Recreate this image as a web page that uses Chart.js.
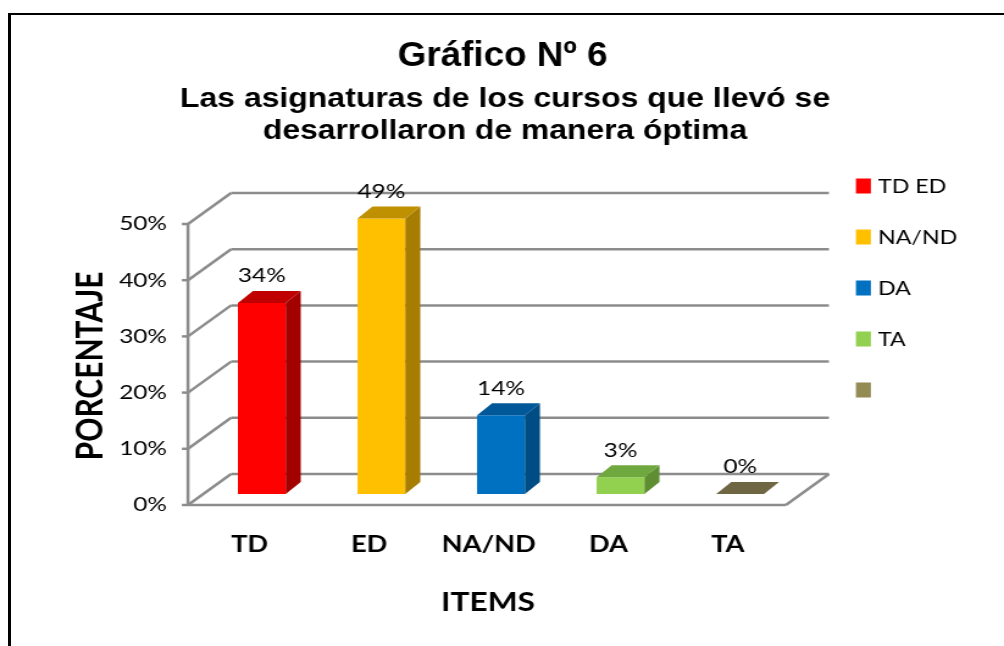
<!DOCTYPE html>
<html lang="es">
<head>
<meta charset="UTF-8">
<title>Gráfico Nº 6</title>
<script src="https://cdn.jsdelivr.net/npm/chart.js"></script>
<style>
  html, body { margin: 0; padding: 0; background: #fff; overflow: hidden; }
  #frame { position: absolute; left: 8px; top: 13px; width: 1100px; height: 800px;
           border-left: 3px solid #000; border-top: 2px solid #000; }
  /* the source picture is stretched ~1.22x horizontally, so the canvas is too */
  #chart { position: absolute; left: 0; top: 0; width: 1004px !important; height: 646px !important; }
</style>
</head>
<body>
<div id="frame"></div>
<canvas id="chart" width="823" height="646" style="width:1004px;height:646px"></canvas>
<script>
const categories = ['TD', 'ED', 'NA/ND', 'DA', 'TA'];
const percentages = [34, 49, 14, 3, 0];
const yTicks = [0, 10, 20, 30, 40, 50];
const legendLabels = ['TD ED', 'NA/ND', 'DA', 'TA', ''];
const titleLines = ['Gráfico Nº 6', 'Las asignaturas de los cursos que llevó se', 'desarrollaron de manera óptima'];
const yTitle = 'PORCENTAJE';
const xTitle = 'ITEMS';

const frontColors = ['#FF0000', '#FFC000', '#0070C0', '#92D050', '#948A54'];
const sideColors = ['#A30000', '#A67D00', '#004C85', '#5F8E32', '#60593A'];
const topColors = ['#C00000', '#BF9000', '#005898', '#70A840', '#6F6643'];

// offsets of the 3d planes, relative to the plane the bars stand in
const FRONT = { dx: -11.5, dy: 11 };
const BACK = { dx: 23.8, dy: -20 };
const DEPTH = { dx: 12.3, dy: -12 };
const GRID = '#8c8c8c';

function line(ctx, x1, y1, x2, y2) {
    ctx.beginPath();
    ctx.moveTo(x1, y1);
    ctx.lineTo(x2, y2);
    ctx.stroke();
}

function poly(ctx, pts) {
    ctx.beginPath();
    ctx.moveTo(pts[0][0], pts[0][1]);
    for (let i = 1; i < pts.length; i++) ctx.lineTo(pts[i][0], pts[i][1]);
    ctx.closePath();
    ctx.fill();
}

const box3d = {
    id: 'box3d',
    beforeDatasetsDraw(chart) {
        const { ctx, chartArea: a, scales: { y } } = chart;
        const fl = a.left + FRONT.dx, fr = a.right + FRONT.dx;
        const bl = a.left + BACK.dx, br = a.right + BACK.dx;
        const y0 = y.getPixelForValue(0);
        const yTop = y.getPixelForValue(yTicks[yTicks.length - 1]);
        ctx.save();
        ctx.strokeStyle = GRID;
        ctx.lineWidth = 2.5;
        yTicks.forEach(v => {
            const py = y.getPixelForValue(v);
            line(ctx, bl, py + BACK.dy, br, py + BACK.dy);
            line(ctx, fl, py + FRONT.dy, bl, py + BACK.dy);
            line(ctx, fl - 5, py + FRONT.dy, fl, py + FRONT.dy);
        });
        line(ctx, fl, yTop + FRONT.dy, fl, y0 + FRONT.dy);
        line(ctx, fl, y0 + FRONT.dy, fr, y0 + FRONT.dy);
        line(ctx, fr, y0 + FRONT.dy, br, y0 + BACK.dy);
        ctx.restore();
    },
    afterDatasetsDraw(chart) {
        const { ctx } = chart;
        const meta = chart.getDatasetMeta(0);
        ctx.save();
        meta.data.forEach((bar, i) => {
            const { x, y, width, base } = bar.getProps(['x', 'y', 'width', 'base'], true);
            const l = x - width / 2, r = x + width / 2;
            ctx.fillStyle = sideColors[i];
            poly(ctx, [[r, y], [r + DEPTH.dx, y + DEPTH.dy], [r + DEPTH.dx, base + DEPTH.dy], [r, base]]);
            ctx.fillStyle = topColors[i];
            poly(ctx, [[l, y], [r, y], [r + DEPTH.dx, y + DEPTH.dy], [l + DEPTH.dx, y + DEPTH.dy]]);
            ctx.fillStyle = '#000';
            ctx.font = '20px Lato';
            ctx.textAlign = 'center';
            ctx.textBaseline = 'middle';
            ctx.fillText(percentages[i] + '%', x, y - 27);
        });
        ctx.restore();
    },
    afterDraw(chart) {
        const { ctx } = chart;
        ctx.save();
        ctx.fillStyle = '#000';
        ctx.textAlign = 'center';
        ctx.textBaseline = 'alphabetic';
        ctx.font = 'bold 35px "Liberation Sans"';
        ctx.fillText(titleLines[0], 412, 66, 172);
        ctx.font = 'bold 28px "Liberation Sans"';
        ctx.fillText(titleLines[1], 414, 107, 533);
        ctx.fillText(titleLines[2], 414, 139, 397);

        ctx.textBaseline = 'middle';
        ctx.font = 'bold 26px Lato';
        ctx.fillText(xTitle, 400, 603);
        ctx.save();
        ctx.translate(74.6, 366);
        ctx.rotate(-Math.PI / 2);
        ctx.font = 'bold 30px Lato';
        ctx.fillText(yTitle, 0, 0);
        ctx.restore();

        // legend
        ctx.textAlign = 'left';
        ctx.font = '19px Lato';
        legendLabels.forEach((lab, i) => {
            const yc = 186 + i * 51;
            ctx.fillStyle = frontColors[i];
            ctx.fillRect(701.6, yc - 7.5, 12.3, 15);
            ctx.fillStyle = '#000';
            ctx.fillText(lab, 719.7, yc + 1);
        });
        ctx.restore();
    }
};

const ctx = document.getElementById('chart').getContext('2d');
const chart = new Chart(ctx, {
    type: 'bar',
    data: {
        labels: categories,
        datasets: [{
            data: percentages,
            backgroundColor: frontColors,
            borderWidth: 0,
            categoryPercentage: 1,
            barPercentage: 0.4
        }]
    },
    options: {
        responsive: false,
        animation: false,
        layout: { padding: { top: 213, right: 167.3, left: 0, bottom: 0 } },
        plugins: {
            legend: { display: false },
            tooltip: { enabled: false }
        },
        scales: {
            x: {
                grid: { display: false, drawTicks: false },
                border: { display: false },
                ticks: {
                    color: '#000',
                    padding: 37,
                    labelOffset: -10,
                    font: { family: 'Lato', size: 22.3, weight: 'bold' }
                },
                afterFit(s) { s.height = 152; }
            },
            y: {
                min: 0,
                max: 50,
                grid: { display: false, drawTicks: false },
                border: { display: false },
                ticks: {
                    stepSize: 10,
                    color: '#000',
                    padding: 28.7,
                    labelOffset: 11,
                    font: { family: 'Lato', size: 20 },
                    callback: v => v + '%'
                },
                afterFit(s) { s.width = 165.6; }
            }
        }
    },
    plugins: [box3d]
});
</script>
</body>
</html>
